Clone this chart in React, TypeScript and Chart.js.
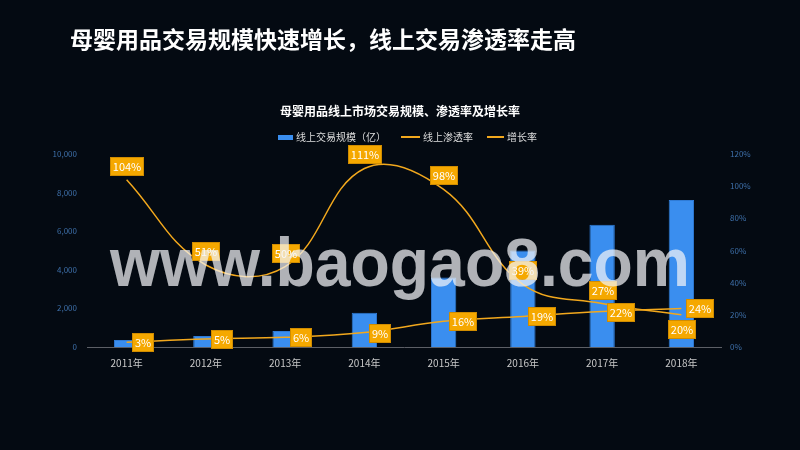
import React, { useEffect, useRef } from "react";
import { Chart, registerables } from "chart.js";

Chart.register(...registerables);

const FONT = '"Noto Sans CJK SC", "Noto Sans", sans-serif';
const BG = "#040a12";
const BLUE = "#3a8eef";
const ORANGE = "#f2a81d";

const MAIN_TITLE = "母婴用品交易规模快速增长，线上交易渗透率走高";
const CHART_TITLE = "母婴用品线上市场交易规模、渗透率及增长率";
const WATERMARK = "www.baogao8.com";

const categories = ["2011年", "2012年", "2013年", "2014年", "2015年", "2016年", "2017年", "2018年"];
const tradeScale = [360, 570, 830, 1780, 3600, 5000, 6340, 7620];
const penetrationRate = [3, 5, 6, 9, 16, 19, 22, 24];
const growthRate = [104, 51, 50, 111, 98, 39, 27, 20];

const leftMax = 10000;
const leftStep = 2000;
const rightMax = 120;
const rightStep = 20;

const SERIES_SCALE = "线上交易规模（亿）";
const SERIES_PEN = "线上渗透率";
const SERIES_GROWTH = "增长率";

const labelPlacement: Record<string, string[]> = {
  [SERIES_GROWTH]: ["top", "top", "top", "top", "top", "top", "top", "bottom"],
  [SERIES_PEN]: ["right", "right", "right", "right", "right", "right", "right", "right"],
};

const boxLabelPlugin = {
  id: "boxLabels",
  afterDatasetsDraw(chart: any) {
    const ctx = chart.ctx as CanvasRenderingContext2D;
    ctx.save();
    ctx.font = `11px ${FONT}`;
    ctx.textAlign = "center";
    ctx.textBaseline = "middle";
    chart.data.datasets.forEach((ds: any, di: number) => {
      const placement = labelPlacement[ds.label];
      if (!placement) return;
      const meta = chart.getDatasetMeta(di);
      meta.data.forEach((el: any, i: number) => {
        const text = `${ds.data[i]}%`;
        const w = Math.round(ctx.measureText(text).width + 5);
        const h = 18;
        let cx = el.x;
        let cy = el.y;
        const p = placement[i];
        if (p === "top") cy = el.y - 5 - h / 2;
        else if (p === "bottom") cy = el.y + 5 + h / 2;
        else if (p === "right") cx = el.x + 5 + w / 2;
        const x0 = Math.round(cx - w / 2) + 0.5;
        const y0 = Math.round(cy - h / 2) + 0.5;
        ctx.fillStyle = "#f5a800";
        ctx.fillRect(x0, y0, w, h);
        ctx.strokeStyle = "#d08c00";
        ctx.lineWidth = 1;
        ctx.strokeRect(x0, y0, w, h);
        ctx.fillStyle = "#ffffff";
        ctx.fillText(text, x0 + w / 2, y0 + h / 2 + 0.5);
      });
    });
    ctx.restore();
  },
};

const watermarkPlugin = {
  id: "watermark",
  afterDraw(chart: any) {
    const ctx = chart.ctx as CanvasRenderingContext2D;
    ctx.save();
    ctx.font = 'bold 68px "Liberation Sans", Arial, sans-serif';
    ctx.textAlign = "left";
    ctx.textBaseline = "alphabetic";
    ctx.fillStyle = "rgba(242,244,246,0.72)";
    const w = ctx.measureText(WATERMARK).width;
    const sx = 580 / w;
    ctx.translate(110, 286);
    ctx.scale(sx, 1);
    ctx.fillText(WATERMARK, 0, 0);
    ctx.restore();
  },
};

export default function App() {
  const canvasRef = useRef<HTMLCanvasElement | null>(null);

  useEffect(() => {
    if (!canvasRef.current) return;
    Chart.defaults.font.family = FONT;
    const chart = new Chart(canvasRef.current, {
      type: "bar",
      data: {
        labels: categories,
        datasets: [
          {
            type: "line",
            label: SERIES_GROWTH,
            data: growthRate,
            yAxisID: "y1",
            borderColor: ORANGE,
            backgroundColor: ORANGE,
            borderWidth: 1.5,
            pointRadius: 0,
            tension: 0.4,
            order: 0,
          } as any,
          {
            type: "line",
            label: SERIES_PEN,
            data: penetrationRate,
            yAxisID: "y1",
            borderColor: ORANGE,
            backgroundColor: ORANGE,
            borderWidth: 1.5,
            pointRadius: 0,
            tension: 0.4,
            order: 1,
          } as any,
          {
            type: "bar",
            label: SERIES_SCALE,
            data: tradeScale,
            yAxisID: "y",
            backgroundColor: BLUE,
            borderColor: "#2f7bd6",
            borderWidth: 1,
            categoryPercentage: 1,
            barPercentage: 0.32,
            order: 2,
          } as any,
        ],
      },
      options: {
        responsive: false,
        animation: false,
        layout: { padding: { top: 154, left: 0, right: 0, bottom: 0 } },
        plugins: {
          legend: { display: false },
          title: { display: false },
          tooltip: { enabled: false },
        },
        scales: {
          x: {
            grid: { display: false, drawTicks: false },
            border: { display: true, color: "#5c5f66", width: 1 },
            ticks: { color: "#c8c8c8", font: { size: 10 }, padding: 10 },
            afterFit: (s: any) => {
              s.height = 103;
            },
          },
          y: {
            position: "left",
            min: 0,
            max: leftMax,
            grid: { display: false, drawTicks: false },
            border: { display: false },
            ticks: {
              stepSize: leftStep,
              color: "#3e70aa",
              font: { size: 8 },
              padding: 10,
              callback: (v: any) => Number(v).toLocaleString("en-US"),
            },
            afterFit: (s: any) => {
              s.width = 87;
            },
          },
          y1: {
            position: "right",
            min: 0,
            max: rightMax,
            grid: { display: false, drawTicks: false },
            border: { display: false },
            ticks: {
              stepSize: rightStep,
              color: "#3e70aa",
              font: { size: 8 },
              padding: 9,
              callback: (v: any) => `${v}%`,
            },
            afterFit: (s: any) => {
              s.width = 79;
            },
          },
        },
      } as any,
      plugins: [boxLabelPlugin, watermarkPlugin],
    });
    return () => chart.destroy();
  }, []);

  const legendItem = (swatch: React.ReactNode, text: string, ml: number) => (
    <div style={{ display: "flex", alignItems: "center", marginLeft: ml }}>
      {swatch}
      <span style={{ marginLeft: 3 }}>{text}</span>
    </div>
  );

  return (
    <div
      style={{
        position: "fixed",
        left: 0,
        top: 0,
        width: 800,
        height: 450,
        background: BG,
        overflow: "hidden",
        fontFamily: FONT,
      }}
    >
      <canvas ref={canvasRef} width={800} height={450} style={{ position: "absolute", left: 0, top: 0, width: 800, height: 450 }} />
      <div
        style={{
          position: "absolute",
          left: 70,
          top: 27,
          fontSize: 23,
          lineHeight: "23px",
          fontWeight: 700,
          color: "#ffffff",
          whiteSpace: "nowrap",
        }}
      >
        {MAIN_TITLE}
      </div>
      <div
        style={{
          position: "absolute",
          left: 0,
          width: 800,
          top: 105,
          textAlign: "center",
          fontSize: 12,
          lineHeight: "12px",
          fontWeight: 700,
          color: "#ffffff",
          whiteSpace: "nowrap",
        }}
      >
        {CHART_TITLE}
      </div>
      <div
        style={{
          position: "absolute",
          left: 278,
          top: 132,
          height: 10,
          display: "flex",
          alignItems: "center",
          fontSize: 10,
          lineHeight: "10px",
          color: "#dddddd",
          whiteSpace: "nowrap",
        }}
      >
        {legendItem(<div style={{ width: 15, height: 5, background: BLUE }} />, SERIES_SCALE, 0)}
        {legendItem(<div style={{ width: 19, height: 2, background: ORANGE }} />, SERIES_PEN, 15)}
        {legendItem(<div style={{ width: 17, height: 2, background: ORANGE }} />, SERIES_GROWTH, 14)}
      </div>
    </div>
  );
}
